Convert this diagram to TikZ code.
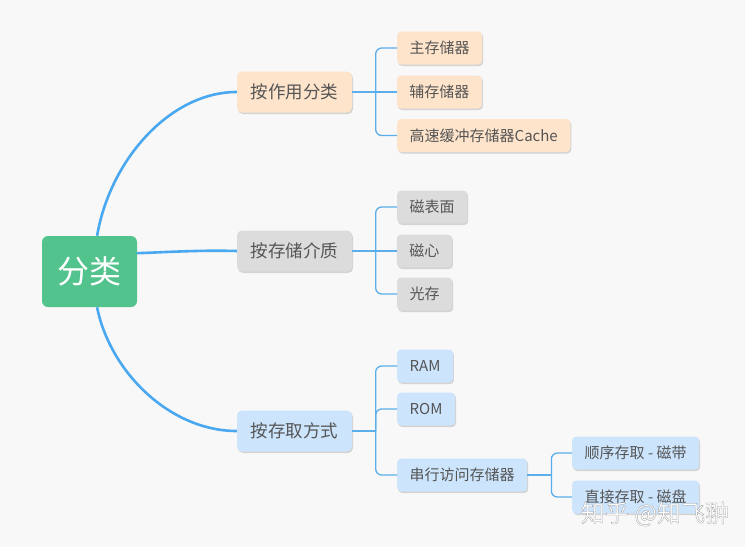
\documentclass[tikz,border=0pt]{standalone}
\usepackage{fontspec}
\setmainfont{Noto Sans CJK SC}
\newfontfamily\wmfont[FakeBold=1.2]{Noto Sans CJK SC}
\usetikzlibrary{positioning, shadows}

\definecolor{bgcol}{HTML}{F8F8F8}
\definecolor{rootgreen}{HTML}{52C38C}
\definecolor{peach}{HTML}{FEE4CB}
\definecolor{stone}{HTML}{DCDCDC}
\definecolor{sky}{HTML}{CCE4FC}
\definecolor{trunkblue}{HTML}{4AA8F0}
\definecolor{branchblue}{HTML}{5CAEEA}
\definecolor{inkgray}{HTML}{555555}

\begin{document}
\begin{tikzpicture}[
    x=1pt, y=-1pt,
    boxshadow/.style={drop shadow={shadow xshift=1pt, shadow yshift=-1.5pt, opacity=0.15, fill=black}},
    rootbox/.style={
        rectangle, rounded corners=6pt, fill=rootgreen, text=white,
        minimum width=95pt, minimum height=71pt, inner sep=0pt,
        font=\fontsize{32}{36}\selectfont
    },
    topic/.style={
        rectangle, rounded corners=5pt, boxshadow, text=inkgray,
        minimum width=115pt, minimum height=41pt, inner sep=0pt,
        font=\fontsize{17.5}{20}\selectfont
    },
    leaf/.style={
        rectangle, rounded corners=4pt, boxshadow, text=inkgray, anchor=west,
        minimum height=33pt, inner xsep=12.5pt, inner ysep=0pt,
        font=\fontsize{15}{17}\selectfont
    },
    trunk/.style={draw=trunkblue, line width=2.6pt},
    branch/.style={draw=branchblue, line width=1.3pt, rounded corners=6pt},
    wmark/.style={font=\wmfont\fontsize{24}{28}\selectfont, text=white},
]

\fill[bgcol] (0,0) rectangle (745,547);
\useasboundingbox (0,0) rectangle (745,547);

% ── Root and main topics ──
\node[rootbox] (root) at (89.5,271.5) {分类};

\node[topic, fill=peach] (byuse) at (294.5,92) {按作用分类};
\node[topic, fill=stone] (bymedium) at (294.5,251) {按存储介质};
\node[topic, fill=sky] (byaccess) at (294.5,431) {按存取方式};

\draw[trunk] (root.78) .. controls (110,160) and (170,92) .. (byuse.west);
\draw[trunk] (root.21) .. controls (170,252) and (200,250) .. (bymedium.west);
\draw[trunk] (root.282) .. controls (110,372) and (170,431) .. (byaccess.west);

% ── By use ──
\coordinate[right=23.5pt of byuse] (juse);
\node[leaf, fill=peach] (mainmem) at (397,48) {主存储器};
\node[leaf, fill=peach, right=21pt of juse] (auxmem) {辅存储器};
\node[leaf, fill=peach] (cache) at (397,135.5) {高速缓冲存储器Cache};

\draw[branch] (byuse.east) -- (juse);
\draw[branch] (juse) |- (mainmem.west);
\draw[branch] (juse) -- (auxmem.west);
\draw[branch] (juse) |- (cache.west);

% ── By medium ──
\coordinate[right=23.5pt of bymedium] (jmedium);
\node[leaf, fill=stone] (surface) at (397,207) {磁表面};
\node[leaf, fill=stone, right=21pt of jmedium] (core) {磁心};
\node[leaf, fill=stone] (optical) at (397,294) {光存};

\draw[branch] (bymedium.east) -- (jmedium);
\draw[branch] (jmedium) |- (surface.west);
\draw[branch] (jmedium) -- (core.west);
\draw[branch] (jmedium) |- (optical.west);

% ── By access ──
\coordinate[right=23.5pt of byaccess] (jaccess);
\node[leaf, fill=sky] (ram) at (397,366) {RAM};
\node[leaf, fill=sky] (rom) at (397,409) {ROM};
\node[leaf, fill=sky] (serial) at (397,475) {串行访问存储器};

\draw[branch] (byaccess.east) -- (jaccess);
\draw[branch] (jaccess) |- (ram.west);
\draw[branch] (jaccess) |- (rom.west);
\draw[branch] (jaccess) |- (serial.west);

% ── Serial access ──
\coordinate[right=24pt of serial] (jserial);
\node[leaf, fill=sky] (tape) at (572,453) {顺序存取 - 磁带};
\node[leaf, fill=sky] (disk) at (572,497) {直接存取 - 磁盘};

\draw[branch] (serial.east) -- (jserial);
\draw[branch] (jserial) |- (tape.west);
\draw[branch] (jserial) |- (disk.west);

% watermark
\node[wmark] (wm) at (655,514) {\special{pdf:literal direct 0.6 0.6 0.6 RG}知乎 @知飞翀};

\end{tikzpicture}
\end{document}
